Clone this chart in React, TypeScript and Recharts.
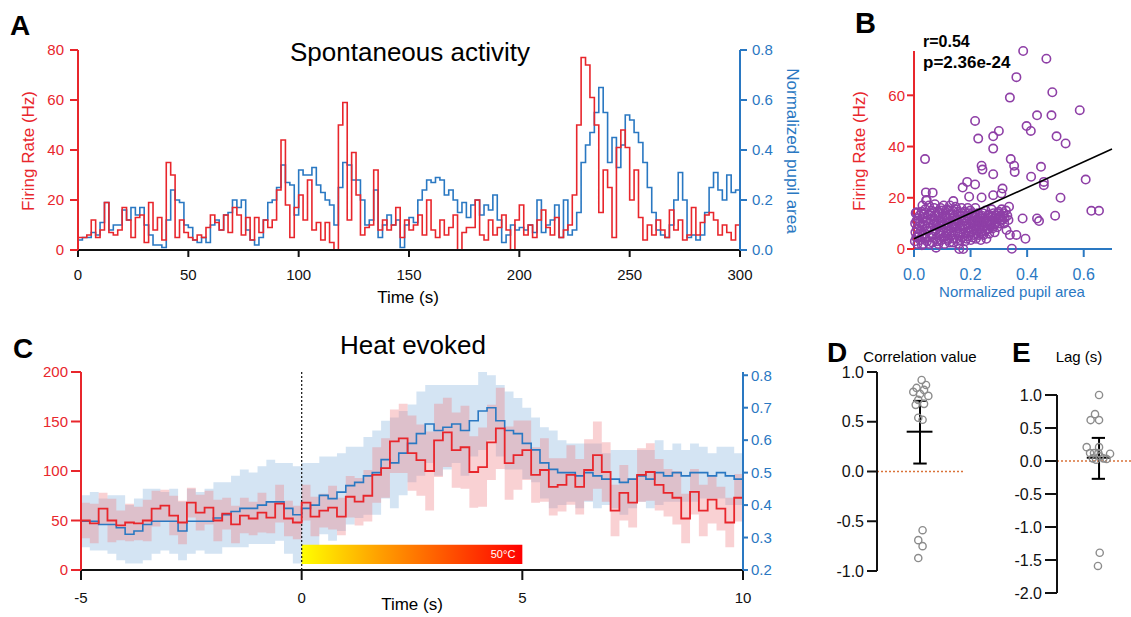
import React from 'react';
import {
  ComposedChart,
  Line,
  Area,
  XAxis,
  YAxis,
  ScatterChart,
  Scatter,
  ReferenceLine,
  ReferenceArea,
} from 'recharts';

const FONT = '"Liberation Sans", Arial, Helvetica, sans-serif';
const RED = '#e8262c';
const BLUE = '#2a78c2';
const PURPLE = '#8e3fa6';
const GREY = '#8c8c8c';
const ORANGE = '#d9733a';
const BLACK = '#111';

// ---------- Panel A: spontaneous activity (2 s bins, 0..298 s) ----------
const spontBinSec = 2;
const spontFiring = [
  5, 5, 6, 12, 5, 8, 19, 7, 6, 8,
  17, 12, 5, 13, 14, 3, 19, 8, 13, 4,
  35, 30, 5, 12, 7, 5, 4, 6, 5, 9,
  14, 11, 8, 14, 7, 17, 14, 6, 13, 4,
  13, 7, 12, 9, 12, 24, 44, 18, 5, 17,
  22, 12, 28, 8, 11, 4, 11, 3, 0, 50,
  59, 12, 39, 22, 6, 9, 10, 32, 8, 12,
  8, 10, 17, 5, 12, 8, 10, 14, 6, 20,
  8, 5, 12, 6, 9, 14, 0, 7, 9, 9,
  20, 6, 4, 12, 6, 9, 14, 8, 0, 12,
  18, 6, 10, 5, 12, 16, 9, 6, 13, 5,
  8, 10, 22, 50, 77, 74, 61, 50, 15, 32,
  25, 5, 41, 48, 41, 20, 32, 13, 4, 10,
  6, 12, 8, 5, 16, 8, 12, 4, 6, 17,
  6, 11, 14, 15, 12, 6, 10, 7, 4, 10,
];
const spontPupil = [
  0.04, 0.05, 0.05, 0.07, 0.06, 0.11, 0.19, 0.08, 0.1, 0.1,
  0.16, 0.12, 0.17, 0.14, 0.17, 0.1, 0.06, 0.02, 0.02, 0.01,
  0.12, 0.24, 0.2, 0.19, 0.1, 0.09, 0.04, 0.03, 0.05, 0.03,
  0.1, 0.12, 0.08, 0.14, 0.15, 0.2, 0.17, 0.2, 0.08, 0.04,
  0.02, 0.05, 0.12, 0.19, 0.2, 0.25, 0.34, 0.27, 0.26, 0.14,
  0.32, 0.3, 0.3, 0.33, 0.26, 0.23, 0.2, 0.18, 0.1, 0.25,
  0.35, 0.34, 0.28, 0.28, 0.2, 0.1, 0.12, 0.24, 0.05, 0.1,
  0.14, 0.1, 0.12, 0.01, 0.1, 0.13, 0.11, 0.2, 0.24, 0.28,
  0.27, 0.29, 0.28, 0.22, 0.24, 0.2, 0.15, 0.19, 0.13, 0.18,
  0.2, 0.14, 0.18, 0.16, 0.22, 0.12, 0.03, 0.06, 0.1, 0.08,
  0.09, 0.08, 0.1, 0.07, 0.2, 0.07, 0.1, 0.12, 0.18, 0.05,
  0.2, 0.06, 0.08, 0.15, 0.35, 0.42, 0.47, 0.55, 0.65, 0.55,
  0.35, 0.45, 0.33, 0.42, 0.54, 0.52, 0.47, 0.43, 0.35, 0.25,
  0.15, 0.08, 0.06, 0.05, 0.1, 0.2, 0.31, 0.2, 0.05, 0.06,
  0.04, 0.06, 0.15, 0.25, 0.31, 0.24, 0.2, 0.3, 0.23, 0.24,
];
const spontEnd = { t: 300, fr: 10, pupil: 0.33 };
const spontTimeTicks = [0, 50, 100, 150, 200, 250, 300];
const spontFiringTicks = [0, 20, 40, 60, 80];
const spontPupilTicks = [0, 0.2, 0.4, 0.6, 0.8];

const spontRows = spontFiring.map((fr, i) => ({ t: i * spontBinSec, fr, pupil: spontPupil[i] }));
spontRows.push(spontEnd);

// ---------- Panel B: firing rate vs pupil ----------
const scatterPairs: [number, number][] = [
  // dense cluster
  [0.003, 3], [0.005, 6.5], [0.004, 10], [0.006, 14], [0.012, 2], [0.01, 8], [0.014, 12], [0.016, 5],
  [0.022, 3.5], [0.025, 7], [0.021, 10.5], [0.027, 14.5], [0.03, 17], [0.033, 2], [0.035, 5.5], [0.038, 9],
  [0.032, 12], [0.04, 15.5], [0.043, 19], [0.046, 3], [0.048, 7], [0.045, 11], [0.05, 13.5],
  [0.053, 17], [0.056, 4.5], [0.058, 8.5], [0.06, 11.5], [0.062, 15], [0.065, 2.5], [0.067, 6], [0.07, 9.5],
  [0.072, 13], [0.074, 17.5], [0.077, 4], [0.079, 7.5], [0.081, 11], [0.083, 14.5], [0.078, 0.5], [0.086, 2],
  [0.088, 5.5], [0.09, 9], [0.092, 12.5], [0.094, 16],
  [0.097, 3.5], [0.099, 7], [0.101, 10.5], [0.103, 14], [0.105, 17], [0.108, 2], [0.11, 5], [0.112, 8.5],
  [0.114, 12], [0.116, 15.5], [0.119, 3.5], [0.121, 7], [0.123, 10], [0.125, 13.5], [0.127, 17], [0.13, 5],
  [0.132, 8.5], [0.134, 12], [0.136, 15],
  [0.139, 2.5], [0.141, 6.5], [0.143, 10], [0.145, 13], [0.147, 16.5], [0.15, 4], [0.152, 8], [0.154, 11.5],
  [0.156, 14.5], [0.159, 2], [0.16, 0], [0.162, 6], [0.164, 9.5], [0.166, 13], [0.168, 16], [0.171, 4.5],
  [0.174, 0], [0.173, 8], [0.176, 11], [0.178, 14.5],
  [0.181, 3], [0.183, 6.5], [0.185, 10], [0.187, 13], [0.19, 16], [0.192, 5], [0.194, 8.5], [0.196, 12],
  [0.199, 15], [0.201, 3.5], [0.203, 7], [0.205, 10.5], [0.207, 14], [0.21, 5.5], [0.212, 9], [0.214, 12.5],
  [0.217, 16], [0.219, 4], [0.221, 7.5], [0.223, 11], [0.226, 14],
  [0.229, 5.5], [0.231, 9], [0.233, 12.5], [0.236, 3.5], [0.238, 7], [0.24, 10.5], [0.243, 14], [0.246, 5.5],
  [0.248, 9], [0.25, 12], [0.253, 15], [0.256, 4], [0.258, 7.5], [0.26, 11], [0.263, 13.5], [0.266, 6],
  [0.268, 9.5], [0.271, 12.5], [0.274, 15.5], [0.277, 8],
  [0.279, 11], [0.282, 14], [0.285, 6.5], [0.288, 10], [0.29, 13], [0.294, 8.5], [0.297, 12], [0.3, 14.5],
  [0.303, 10], [0.306, 13], [0.31, 15.5], [0.313, 11.5], [0.317, 14], [0.321, 12], [0.325, 15], [0.33, 13],
  [0.02, 9], [0.06, 13], [0.1, 12], [0.14, 9], [0.18, 11], [0.22, 9], [0.26, 8], [0.12, 4], [0.08, 9], [0.04, 6],
  [0.008, 4.5], [0.009, 11], [0.018, 6], [0.019, 13], [0.028, 1.5], [0.029, 9.5], [0.036, 13.5], [0.041, 4],
  [0.044, 8], [0.051, 10], [0.054, 2], [0.059, 14], [0.063, 5], [0.068, 11], [0.071, 16], [0.075, 7],
  [0.082, 3], [0.085, 10], [0.089, 14], [0.093, 6], [0.096, 11], [0.1, 15], [0.104, 4.5], [0.107, 9.5],
  [0.111, 13], [0.115, 6], [0.118, 10], [0.122, 15], [0.126, 2.5], [0.129, 11], [0.133, 6.5], [0.137, 13.5],
  [0.14, 4], [0.144, 8.5], [0.148, 11.5], [0.151, 15.5], [0.155, 6], [0.158, 10], [0.163, 3.5], [0.167, 11],
  [0.17, 14], [0.175, 6], [0.179, 9], [0.182, 12], [0.186, 4], [0.189, 8], [0.193, 14], [0.197, 6.5],
  [0.2, 10], [0.204, 13], [0.208, 4.5], [0.211, 8], [0.215, 11], [0.218, 13.5], [0.222, 6], [0.225, 9.5],
  [0.228, 12], [0.232, 7.5], [0.235, 11], [0.239, 13], [0.242, 6], [0.245, 9], [0.249, 11], [0.252, 7],
  [0.257, 10], [0.261, 13], [0.264, 8], [0.269, 11], [0.273, 10], [0.278, 13], [0.283, 9], [0.287, 12],
  [0.292, 10.5], [0.296, 14], [0.301, 12], [0.308, 11], [0.315, 13], [0.319, 10],
  // sparse points
  [0.386, 77.3], [0.468, 74.3], [0.362, 67.1], [0.339, 59.1], [0.489, 61.2], [0.435, 52.2], [0.486, 52.2],
  [0.586, 54.2], [0.216, 50], [0.398, 48], [0.413, 46.1], [0.3, 46.1], [0.227, 43.1], [0.28, 44], [0.504, 44],
  [0.536, 41.2], [0.28, 39.2], [0.342, 35.1], [0.039, 35.1], [0.354, 32.5], [0.239, 32.5], [0.242, 31],
  [0.449, 32.1], [0.356, 30.1], [0.607, 27.1], [0.414, 28.2], [0.459, 26.2], [0.459, 24.9], [0.28, 29.2],
  [0.188, 26.2], [0.216, 25.2], [0.518, 20], [0.627, 14.9], [0.654, 14.9], [0.499, 13], [0.435, 11.9],
  [0.442, 10.9], [0.384, 11.9], [0.336, 16.5], [0.334, 11.3], [0.327, 7.4], [0.339, 5.5], [0.362, 5.5],
  [0.394, 4], [0.346, 0.1], [0.042, 22.1], [0.066, 22], [0.172, 24], [0.195, 20.4], [0.239, 20.1],
  [0.28, 21], [0.313, 23.6], [0.309, 21.7], [0.139, 18.7], [0.045, 19.1], [0.009, 14.3],
];
const scatterRows = scatterPairs.map(([x, y]) => ({ x, y }));
const fitPupil = [0, 0.7];
const fitFiring = [4, 39];
const fitRows = fitPupil.map((x, i) => ({ x, y: fitFiring[i] }));
const scatterPupilTicks = [0, 0.2, 0.4, 0.6];
const scatterFiringTicks = [0, 20, 40, 60];

// ---------- Panel C: heat evoked (0.2 s bins, -5..9.8 s) ----------
const heatStart = -5;
const heatBinSec = 0.2;
const heatFiring = [
  50, 47, 62, 50, 45, 48, 47, 50, 62, 65, 55, 48, 68, 58, 63, 50, 57, 46, 55, 52, 58, 53, 67, 52, 48,
  68, 54, 60, 63, 54, 74, 69, 75, 96, 103, 130, 133, 118, 111, 100, 131, 139, 121, 124, 99, 104, 129, 143, 108, 116,
  121, 96, 101, 84, 86, 96, 84, 101, 116, 99, 60, 78, 68, 96, 99, 86, 78, 73, 52, 79, 60, 71, 62, 48, 73,
];
const heatFiringErr = [
  18, 20, 16, 22, 15, 19, 17, 21, 18, 16, 20, 22, 15, 18, 17, 21, 16, 19, 18, 17, 20, 16, 19, 18, 17,
  18, 20, 17, 22, 19, 21, 24, 26, 28, 30, 32, 35, 38, 36, 40, 37, 35, 38, 42, 36, 40, 38, 41, 37, 35,
  30, 28, 32, 29, 27, 30, 28, 31, 34, 30, 26, 28, 25, 27, 29, 26, 24, 27, 25, 23, 26, 24, 22, 25, 24,
];
const heatPupil = [
  0.35, 0.35, 0.34, 0.34, 0.33, 0.31, 0.32, 0.34, 0.35, 0.35, 0.35, 0.32, 0.35, 0.35, 0.35, 0.36, 0.37, 0.38, 0.39, 0.39, 0.4, 0.41, 0.41, 0.39, 0.37,
  0.39, 0.4, 0.43, 0.42, 0.44, 0.46, 0.47, 0.49, 0.5, 0.54, 0.53, 0.56, 0.59, 0.62, 0.65, 0.63, 0.64, 0.65, 0.63, 0.66, 0.69, 0.7, 0.66, 0.63, 0.62,
  0.59, 0.57, 0.53, 0.51, 0.5, 0.5, 0.49, 0.5, 0.49, 0.48, 0.48, 0.47, 0.48, 0.49, 0.48, 0.5, 0.49, 0.5, 0.49, 0.5, 0.5, 0.49, 0.5, 0.49, 0.48,
];
const heatPupilErr = [
  0.08, 0.09, 0.08, 0.09, 0.1, 0.09, 0.1, 0.11, 0.1, 0.09, 0.1, 0.09, 0.1, 0.09, 0.1, 0.11, 0.1, 0.11, 0.12, 0.11, 0.12, 0.13, 0.12, 0.14, 0.15,
  0.14, 0.13, 0.12, 0.13, 0.12, 0.12, 0.11, 0.12, 0.13, 0.12, 0.14, 0.13, 0.12, 0.13, 0.12, 0.14, 0.13, 0.12, 0.14, 0.11, 0.12, 0.1, 0.11, 0.12, 0.11,
  0.11, 0.1, 0.11, 0.12, 0.1, 0.09, 0.1, 0.09, 0.1, 0.08, 0.09, 0.1, 0.09, 0.08, 0.09, 0.1, 0.08, 0.09, 0.08, 0.09, 0.08, 0.07, 0.08, 0.09, 0.08,
];
const heatEnd = { t: 10, fr: 75, frErr: 24, pupil: 0.47, pupilErr: 0.08 };
const heatTimeTicks = [-5, 0, 5, 10];
const heatFiringTicks = [0, 50, 100, 150, 200];
const heatPupilTicks = [0.2, 0.3, 0.4, 0.5, 0.6, 0.7, 0.8];
const stimulus = { on: 0, off: 5, label: '50°C' };

const heatRows = heatFiring.map((fr, i) => {
  const t = Math.round((heatStart + i * heatBinSec) * 10) / 10;
  return {
    t,
    fr,
    frBand: [fr - heatFiringErr[i], fr + heatFiringErr[i]],
    pupil: heatPupil[i],
    pupilBand: [heatPupil[i] - heatPupilErr[i], heatPupil[i] + heatPupilErr[i]],
  };
});
heatRows.push({
  t: heatEnd.t,
  fr: heatEnd.fr,
  frBand: [heatEnd.fr - heatEnd.frErr, heatEnd.fr + heatEnd.frErr],
  pupil: heatEnd.pupil,
  pupilBand: [heatEnd.pupil - heatEnd.pupilErr, heatEnd.pupil + heatEnd.pupilErr],
});

// ---------- Panel D: correlation values ----------
const corrJitter = [4.22, 4.6, 5.19, 5.7, 5.47, 5.97, 5.0, 4.8, 5.47, 4.5, 4.8, 5.3, 5.3, 4.8, 5.3, 4.8];
const corrValues = [0.8, 0.84, 0.92, 0.87, 0.82, 0.76, 0.78, 0.72, 0.68, 0.67, 0.54, 0.52, -0.59, -0.69, -0.75, -0.87];
const corrSummary = { mean: 0.4, low: 0.08, high: 0.71 };
const corrTicks = [-1, -0.5, 0, 0.5, 1];
const corrRows = corrValues.map((y, i) => ({ x: corrJitter[i], y }));

// ---------- Panel E: lags ----------
const lagJitter = [5.0, 4.52, 4.0, 5.0, 3.53, 5.0, 3.93, 4.4, 4.92, 6.31, 5.52, 4.25, 5.9, 4.64, 5.1, 5.08, 4.87];
const lagValues = [1.0, 0.71, 0.62, 0.62, 0.21, 0.21, 0.12, 0.12, 0.12, 0.11, 0.04, 0.04, 0.03, 0.02, 0.07, -1.39, -1.59];
const lagSummary = { mean: 0.05, low: -0.27, high: 0.35 };
const lagTicks = [-2, -1.5, -1, -0.5, 0, 0.5, 1];
const lagRows = lagValues.map((y, i) => ({ x: lagJitter[i], y }));

const purpleRing = (p: any) => (
  <circle cx={p.cx} cy={p.cy} r={4.2} fill="none" stroke={PURPLE} strokeWidth={1.6} />
);
const greyRing = (p: any) => (
  <circle cx={p.cx} cy={p.cy} r={3.6} fill="none" stroke={GREY} strokeWidth={1.4} />
);
const noShape = () => <g />;

const one = (v: number) => v.toFixed(1);

export default function App() {
  const axisW = 2;
  return (
    <div
      style={{
        position: 'absolute',
        left: 0,
        top: 0,
        width: 1131,
        height: 617,
        background: '#fff',
        fontFamily: FONT,
        overflow: 'hidden',
      }}
    >
      <svg width={0} height={0} style={{ position: 'absolute' }}>
        <defs>
          <linearGradient id="heatGrad" x1="0" y1="0" x2="1" y2="0">
            <stop offset="0%" stopColor="#ffff00" />
            <stop offset="35%" stopColor="#ffa000" />
            <stop offset="100%" stopColor="#ff0000" />
          </linearGradient>
        </defs>
      </svg>

      {/* Panel A */}
      <div style={{ position: 'absolute', left: 0, top: 0 }}>
        <ComposedChart width={800} height={300} data={spontRows} margin={{ top: 50, right: 0, bottom: 0, left: 0 }}>
          <XAxis
            dataKey="t"
            type="number"
            domain={[0, 300]}
            ticks={spontTimeTicks}
            height={50}
            tickSize={7}
            tickMargin={12}
            stroke={BLACK}
            axisLine={{ stroke: BLACK, strokeWidth: axisW }}
            tickLine={{ stroke: BLACK, strokeWidth: axisW }}
            tick={{ fontSize: 15, fill: BLACK }}
          />
          <YAxis
            yAxisId="fr"
            orientation="left"
            width={78}
            domain={[0, 80]}
            ticks={spontFiringTicks}
            tickSize={8}
            tickMargin={6}
            stroke={RED}
            axisLine={{ stroke: RED, strokeWidth: axisW }}
            tickLine={{ stroke: RED, strokeWidth: axisW }}
            tick={{ fontSize: 15, fill: RED }}
          />
          <YAxis
            yAxisId="pu"
            orientation="right"
            width={60}
            domain={[0, 0.8]}
            ticks={spontPupilTicks}
            tickFormatter={one}
            tickSize={7}
            tickMargin={5}
            stroke={BLUE}
            axisLine={{ stroke: BLUE, strokeWidth: axisW }}
            tickLine={{ stroke: BLUE, strokeWidth: axisW }}
            tick={{ fontSize: 15, fill: BLUE }}
          />
          <Line yAxisId="pu" dataKey="pupil" type="stepAfter" stroke={BLUE} strokeWidth={1.6} dot={false} isAnimationActive={false} />
          <Line yAxisId="fr" dataKey="fr" type="stepAfter" stroke={RED} strokeWidth={1.6} dot={false} isAnimationActive={false} />
        </ComposedChart>
      </div>

      {/* Panel B */}
      <div style={{ position: 'absolute', left: 840, top: 0 }}>
        <ScatterChart width={291} height={299} margin={{ top: 51, right: 19, bottom: 0, left: 0 }}>
          <XAxis
            dataKey="x"
            type="number"
            domain={[0, 0.7]}
            ticks={scatterPupilTicks}
            tickFormatter={one}
            height={50}
            tickSize={8}
            tickMargin={12}
            stroke={BLUE}
            axisLine={{ stroke: BLUE, strokeWidth: axisW }}
            tickLine={{ stroke: BLUE, strokeWidth: axisW }}
            tick={{ fontSize: 16, fill: BLUE }}
          />
          <YAxis
            dataKey="y"
            type="number"
            domain={[0, 77.3]}
            ticks={scatterFiringTicks}
            width={74}
            tickSize={7}
            tickMargin={2}
            stroke={RED}
            axisLine={{ stroke: RED, strokeWidth: axisW }}
            tickLine={{ stroke: RED, strokeWidth: axisW }}
            tick={{ fontSize: 15, fill: RED }}
          />
          <Scatter data={scatterRows} shape={purpleRing} isAnimationActive={false} />
          <Scatter
            data={fitRows}
            shape={noShape}
            line={{ stroke: '#000', strokeWidth: 1.6 }}
            isAnimationActive={false}
          />
        </ScatterChart>
      </div>

      {/* Panel C */}
      <div style={{ position: 'absolute', left: 0, top: 320 }}>
        <ComposedChart width={803} height={297} data={heatRows} margin={{ top: 52, right: 0, bottom: 0, left: 0 }}>
          <XAxis
            dataKey="t"
            type="number"
            domain={[-5, 10]}
            ticks={heatTimeTicks}
            height={47}
            tickSize={10}
            tickMargin={12}
            stroke={BLACK}
            axisLine={{ stroke: BLACK, strokeWidth: axisW }}
            tickLine={{ stroke: BLACK, strokeWidth: axisW }}
            tick={{ fontSize: 15, fill: BLACK }}
          />
          <YAxis
            yAxisId="fr"
            orientation="left"
            width={81}
            domain={[0, 200]}
            ticks={heatFiringTicks}
            tickSize={10}
            tickMargin={3}
            stroke={RED}
            axisLine={{ stroke: RED, strokeWidth: axisW }}
            tickLine={{ stroke: RED, strokeWidth: axisW }}
            tick={{ fontSize: 15, fill: RED }}
          />
          <YAxis
            yAxisId="pu"
            orientation="right"
            width={60}
            domain={[0.2, 0.8]}
            ticks={heatPupilTicks}
            tickFormatter={one}
            tickSize={5}
            tickMargin={3}
            stroke={BLUE}
            axisLine={{ stroke: BLUE, strokeWidth: axisW }}
            tickLine={{ stroke: BLUE, strokeWidth: axisW }}
            tick={{ fontSize: 15, fill: BLUE }}
          />
          <Area yAxisId="pu" dataKey="pupilBand" type="stepAfter" stroke="none" fill="#8fb8df" fillOpacity={0.38} isAnimationActive={false} />
          <Area yAxisId="fr" dataKey="frBand" type="stepAfter" stroke="none" fill="#ef7f86" fillOpacity={0.36} isAnimationActive={false} />
          <ReferenceArea
            yAxisId="fr"
            x1={stimulus.on}
            x2={stimulus.off}
            y1={6}
            y2={25.5}
            fill="url(#heatGrad)"
            fillOpacity={1}
            stroke="none"
            label={{ value: stimulus.label, position: 'insideRight', fill: '#fff', fontSize: 11, offset: 7 }}
          />
          <ReferenceLine yAxisId="fr" x={0} stroke="#222" strokeDasharray="2 2" strokeWidth={1.3} />
          <Line yAxisId="pu" dataKey="pupil" type="stepAfter" stroke={BLUE} strokeWidth={1.6} dot={false} isAnimationActive={false} />
          <Line yAxisId="fr" dataKey="fr" type="stepAfter" stroke={RED} strokeWidth={1.8} dot={false} isAnimationActive={false} />
        </ComposedChart>
      </div>

      {/* Panel D */}
      <div style={{ position: 'absolute', left: 820, top: 320 }}>
        <ScatterChart width={143} height={297} margin={{ top: 52, right: 0, bottom: 46, left: 0 }}>
          <XAxis dataKey="x" type="number" domain={[0, 10]} hide />
          <YAxis
            dataKey="y"
            type="number"
            domain={[-1, 1]}
            ticks={corrTicks}
            tickFormatter={one}
            width={57}
            tickSize={10}
            tickMargin={3}
            stroke={BLACK}
            axisLine={{ stroke: BLACK, strokeWidth: axisW }}
            tickLine={{ stroke: BLACK, strokeWidth: axisW }}
            tick={{ fontSize: 16, fill: BLACK }}
          />
          <ReferenceLine y={0} stroke={ORANGE} strokeDasharray="2 2" strokeWidth={1.5} />
          <Scatter data={corrRows} shape={greyRing} isAnimationActive={false} />
          <ReferenceLine segment={[{ x: 5, y: corrSummary.low }, { x: 5, y: corrSummary.high }]} stroke="#000" strokeWidth={2} />
          <ReferenceLine segment={[{ x: 4.22, y: corrSummary.low }, { x: 5.78, y: corrSummary.low }]} stroke="#000" strokeWidth={2} />
          <ReferenceLine segment={[{ x: 4.22, y: corrSummary.high }, { x: 5.78, y: corrSummary.high }]} stroke="#000" strokeWidth={2} />
          <ReferenceLine segment={[{ x: 3.45, y: corrSummary.mean }, { x: 6.45, y: corrSummary.mean }]} stroke="#000" strokeWidth={2} />
        </ScatterChart>
      </div>

      {/* Panel E */}
      <div style={{ position: 'absolute', left: 1000, top: 320 }}>
        <ScatterChart width={131} height={297} margin={{ top: 75, right: 0, bottom: 24, left: 0 }}>
          <XAxis dataKey="x" type="number" domain={[0, 8.8]} hide />
          <YAxis
            dataKey="y"
            type="number"
            domain={[-2, 1]}
            ticks={lagTicks}
            tickFormatter={one}
            width={57}
            tickSize={12}
            tickMargin={3}
            stroke={BLACK}
            axisLine={{ stroke: BLACK, strokeWidth: axisW }}
            tickLine={{ stroke: BLACK, strokeWidth: axisW }}
            tick={{ fontSize: 16, fill: BLACK }}
          />
          <ReferenceLine y={0} stroke={ORANGE} strokeDasharray="2 2" strokeWidth={1.5} />
          <Scatter data={lagRows} shape={greyRing} isAnimationActive={false} />
          <ReferenceLine segment={[{ x: 5, y: lagSummary.low }, { x: 5, y: lagSummary.high }]} stroke="#000" strokeWidth={2} />
          <ReferenceLine segment={[{ x: 4.13, y: lagSummary.low }, { x: 5.71, y: lagSummary.low }]} stroke="#000" strokeWidth={2} />
          <ReferenceLine segment={[{ x: 4.13, y: lagSummary.high }, { x: 5.71, y: lagSummary.high }]} stroke="#000" strokeWidth={2} />
          <ReferenceLine segment={[{ x: 3.54, y: lagSummary.mean }, { x: 6.31, y: lagSummary.mean }]} stroke="#000" strokeWidth={2} />
        </ScatterChart>
      </div>

      {/* Text overlay */}
      <svg
        width={1131}
        height={617}
        style={{ position: 'absolute', left: 0, top: 0, pointerEvents: 'none' }}
        fontFamily={FONT}
      >
        <text x={10} y={35} fontSize={28} fontWeight="bold" fill="#000">A</text>
        <text x={410} y={61} fontSize={26} textAnchor="middle" fill="#000">Spontaneous activity</text>
        <text transform="translate(34,151) rotate(-90)" fontSize={17} textAnchor="middle" fill={RED}>Firing Rate (Hz)</text>
        <text transform="translate(787,151) rotate(90)" fontSize={17} textAnchor="middle" fill={BLUE}>Normalized pupil area</text>
        <text x={408} y={303} fontSize={17} textAnchor="middle" fill="#000">Time (s)</text>

        <text x={855} y={33} fontSize={29} fontWeight="bold" fill="#000">B</text>
        <text x={923} y={47} fontSize={16} fontWeight="bold" fill="#000">r=0.54</text>
        <text x={923} y={68} fontSize={17} fontWeight="bold" fill="#000">p=2.36e-24</text>
        <text transform="translate(865,151) rotate(-90)" fontSize={17} textAnchor="middle" fill={RED}>Firing Rate (Hz)</text>
        <text x={1012} y={297} fontSize={15} textAnchor="middle" fill={BLUE}>Normalized pupil area</text>

        <text x={13} y={358} fontSize={28} fontWeight="bold" fill="#000">C</text>
        <text x={413} y={354} fontSize={26} textAnchor="middle" fill="#000">Heat evoked</text>
        <text x={412} y={610} fontSize={17} textAnchor="middle" fill="#000">Time (s)</text>

        <text x={827} y={362} fontSize={28} fontWeight="bold" fill="#000">D</text>
        <text x={920} y={362} fontSize={15} textAnchor="middle" fill="#000">Correlation value</text>
        <text x={1012} y={362} fontSize={28} fontWeight="bold" fill="#000">E</text>
        <text x={1079} y={362} fontSize={15} textAnchor="middle" fill="#000">Lag (s)</text>
      </svg>
    </div>
  );
}
